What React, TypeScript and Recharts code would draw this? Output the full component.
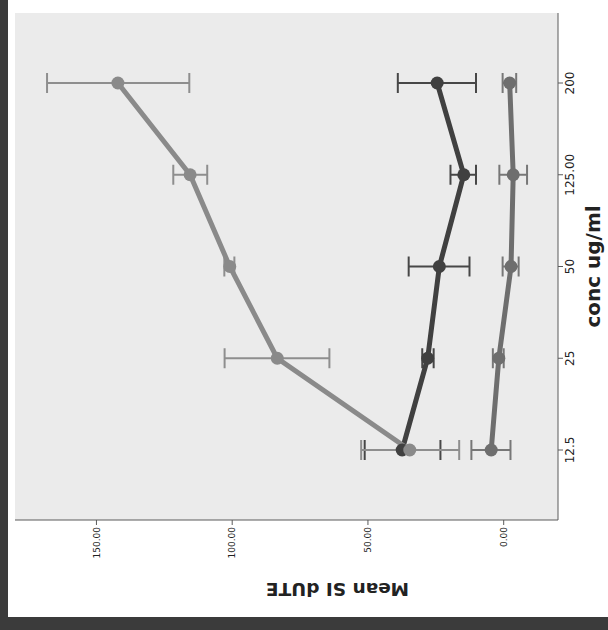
import React from 'react';
import { LineChart, Line, XAxis, YAxis, CartesianGrid, ErrorBar } from 'recharts';

// concentrations (category axis) and mean SI with 95% CI bounds per group
const CONC = ['12.5', '25', '50', '125.00', '200'];

const HIGH_MEAN = [34.6, 83.4, 100.9, 115.5, 142.1];
const HIGH_LO = [16.4, 64.2, 99.2, 109.2, 115.8];
const HIGH_HI = [52.5, 102.8, 102.9, 121.7, 168.2];

const MID_MEAN = [37.4, 28.0, 23.7, 14.7, 24.5];
const MID_LO = [23.3, 25.8, 12.6, 10.2, 10.2];
const MID_HI = [51.2, 30.0, 35.0, 19.6, 39.0];

const LOW_MEAN = [4.6, 1.8, -2.7, -3.5, -2.2];
const LOW_LO = [-2.5, 0.0, -5.5, -8.6, -4.6];
const LOW_HI = [11.9, 4.0, 0.4, 1.6, 0.4];

const VALUE_TICKS = [0, 50, 100, 150];
const VALUE_DOMAIN = [-20, 180];

const data = CONC.map((conc, i) => ({
  conc,
  high: HIGH_MEAN[i],
  highErr: [HIGH_MEAN[i] - HIGH_LO[i], HIGH_HI[i] - HIGH_MEAN[i]],
  mid: MID_MEAN[i],
  midErr: [MID_MEAN[i] - MID_LO[i], MID_HI[i] - MID_MEAN[i]],
  low: LOW_MEAN[i],
  lowErr: [LOW_MEAN[i] - LOW_LO[i], LOW_HI[i] - LOW_MEAN[i]],
}));

const FRAME = '#5a5a5a';
const FONT = '"DejaVu Sans", Verdana, sans-serif';

export default function App() {
  return (
    <div
      style={{
        position: 'absolute',
        left: 0,
        top: 0,
        width: 608,
        height: 630,
        background: '#fff',
        overflow: 'hidden',
      }}
    >
      {/* chart drawn upright, then turned a quarter turn counter-clockwise */}
      <div
        style={{
          position: 'absolute',
          left: 0,
          top: 0,
          width: 630,
          height: 608,
          transformOrigin: '0 0',
          transform: 'translateY(630px) rotate(-90deg)',
        }}
      >
        <LineChart
          width={630}
          height={608}
          data={data}
          margin={{ top: 15, right: 13, bottom: 5, left: 65 }}
          style={{ fontFamily: FONT }}
        >
          <CartesianGrid fill="#ebebeb" horizontal={false} vertical={false} stroke="none" />
          <XAxis
            dataKey="conc"
            type="category"
            height={45}
            padding={{ left: 70, right: 70 }}
            stroke={FRAME}
            tickSize={5}
            tick={{ fontSize: 12, fill: '#222' }}
            interval={0}
            label={{
              content: ({ viewBox }: any) => {
                const vb = viewBox || { x: 110, y: 558, width: 507, height: 45 };
                return (
                  <text
                    x={vb.x + vb.width / 2}
                    y={vb.y + vb.height - 3}
                    textAnchor="middle"
                    fontSize={20}
                    fontWeight="bold"
                    fill="#222"
                    fontFamily={FONT}
                  >
                    conc ug/ml
                  </text>
                );
              },
            }}
          />
          <XAxis
            xAxisId="top"
            dataKey="conc"
            orientation="top"
            height={0}
            tick={false}
            tickLine={false}
            stroke={FRAME}
          />
          <YAxis
            type="number"
            domain={VALUE_DOMAIN}
            ticks={VALUE_TICKS}
            width={45}
            stroke={FRAME}
            tickSize={5}
            tick={{ fontSize: 9, fill: '#222' }}
            tickFormatter={(v: number) => v.toFixed(2)}
            allowDataOverflow
            label={{
              content: () => (
                <text
                  x={47}
                  y={337.5}
                  transform="rotate(-90 47 337.5)"
                  textAnchor="middle"
                  fontSize={18.5}
                  fontWeight="bold"
                  fill="#222"
                  fontFamily={FONT}
                >
                  Mean SI dUTE
                </text>
              ),
            }}
          />
          <YAxis
            yAxisId="right"
            orientation="right"
            type="number"
            domain={VALUE_DOMAIN}
            width={0}
            tick={false}
            tickLine={false}
            stroke={FRAME}
          />
          <Line
            type="linear"
            dataKey="low"
            stroke="#6e6e6e"
            strokeWidth={5}
            dot={{ r: 6.5, fill: '#6e6e6e', stroke: 'none' }}
            activeDot={false}
            isAnimationActive={false}
          >
            <ErrorBar dataKey="lowErr" direction="y" width={10} stroke="#777" strokeWidth={2} />
          </Line>
          <Line
            type="linear"
            dataKey="mid"
            stroke="#404040"
            strokeWidth={5}
            dot={{ r: 6.5, fill: '#404040', stroke: 'none' }}
            activeDot={false}
            isAnimationActive={false}
          >
            <ErrorBar dataKey="midErr" direction="y" width={10} stroke="#474747" strokeWidth={2} />
          </Line>
          <Line
            type="linear"
            dataKey="high"
            stroke="#8a8a8a"
            strokeWidth={5}
            dot={{ r: 6.5, fill: '#8a8a8a', stroke: 'none' }}
            activeDot={false}
            isAnimationActive={false}
          >
            <ErrorBar dataKey="highErr" direction="y" width={10} stroke="#8e8e8e" strokeWidth={2} />
          </Line>
        </LineChart>
      </div>
      <div style={{ position: 'absolute', left: 0, top: 0, width: 8, height: 630, background: '#3b3b3b' }} />
      <div style={{ position: 'absolute', left: 0, top: 617, width: 608, height: 13, background: '#3b3b3b' }} />
    </div>
  );
}
